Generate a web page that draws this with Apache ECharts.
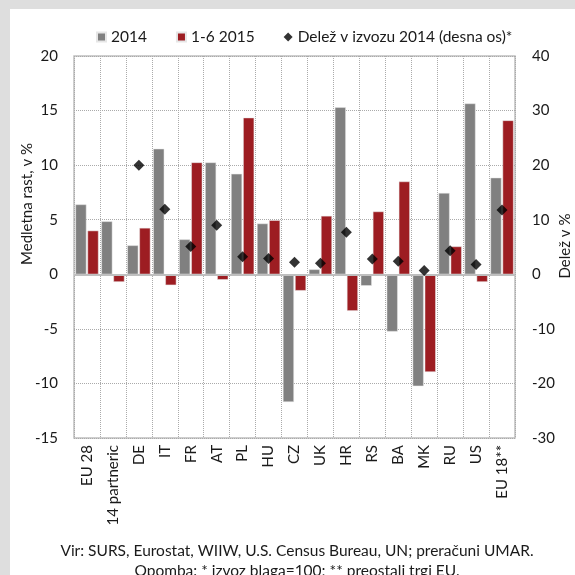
<!DOCTYPE html>
<html>
<head>
<meta charset="utf-8">
<script src="https://cdn.jsdelivr.net/npm/echarts@6/dist/echarts.min.js"></script>
<style>
  html, body { margin: 0; padding: 0; background: #fff; }
  #chart { width: 575px; height: 575px; }
</style>
</head>
<body>
<div id="chart"></div>
<script>
// trgi
var categories = ['EU 28', '14 partneric', 'DE', 'IT', 'FR', 'AT', 'PL', 'HU', 'CZ', 'UK', 'HR', 'RS', 'BA', 'MK', 'RU', 'US', 'EU 18**']
// medletna rast, v %
var rast2014 = [6.4, 4.85, 2.65, 11.5, 3.2, 10.25, 9.2, 4.65, -11.7, 0.45, 15.3, -1.05, -5.25, -10.25, 7.45, 15.65, 8.85]
var rast2015 = [4.0, -0.7, 4.25, -1.0, 10.25, -0.5, 14.35, 4.95, -1.5, 5.35, -3.35, 5.75, 8.5, -8.95, 2.55, -0.7, 14.1]
// delez v izvozu 2014 (desna os)
var delez = ['-', '-', 20.0, 11.9, 5.1, 9.0, 3.2, 2.9, 2.2, 2.0, 7.7, 2.8, 2.4, 0.7, 4.3, 1.8, 11.8]

var font = 'Lato'
var grey = '#808080'
var red = '#9d1d22'

var chart = echarts.init(document.getElementById('chart'))
chart.setOption({
    animation: false,
    textStyle: { fontFamily: font, color: '#1a1a1a' },
    legend: {
        top: 24, left: 91, itemGap: 29, itemWidth: 9, itemHeight: 9,
        textStyle: { fontSize: 15.5, color: '#1a1a1a', fontFamily: font },
        data: [
            { name: '2014', icon: 'rect' },
            { name: '1-6 2015', icon: 'rect' },
            { name: 'Delež v izvozu 2014 (desna os)*', icon: 'diamond' }
        ]
    },
    grid: {
        left: 74, right: 60, top: 56, bottom: 137,
        show: true, borderColor: '#bfbfbf', borderWidth: 1.5
    },
    xAxis: {
        type: 'category',
        data: categories,
        axisLine: { show: false },
        axisTick: { show: false },
        axisLabel: { interval: 0, rotate: 90, margin: 7, fontSize: 15, color: '#1a1a1a', fontFamily: font },
        splitLine: { show: true, interval: 0, lineStyle: { type: 'dotted', color: '#aaaaaa' } }
    },
    yAxis: [{
        type: 'value', min: -15, max: 20, interval: 5,
        axisLine: { show: false }, axisTick: { show: false },
        axisLabel: { margin: 16, fontSize: 15, color: '#1a1a1a', fontFamily: font },
        splitLine: { lineStyle: { type: 'dotted', color: '#aaaaaa' } }
    }, {
        type: 'value', min: -30, max: 40, interval: 10, position: 'right',
        axisLine: { show: false }, axisTick: { show: false },
        axisLabel: { margin: 17, fontSize: 15, color: '#1a1a1a', fontFamily: font },
        splitLine: { show: false }
    }],
    series: [{
        name: '2014', type: 'bar', data: rast2014,
        barWidth: 11, barGap: '10%',
        itemStyle: { color: grey, borderColor: '#e6e6e6', borderWidth: 0.5 },
        markLine: {
            silent: true, symbol: 'none', label: { show: false },
            lineStyle: { color: '#bfbfbf', type: 'solid', width: 2 },
            data: [{ yAxis: 0 }]
        }
    }, {
        name: '1-6 2015', type: 'bar', data: rast2015,
        barWidth: 11,
        itemStyle: { color: red, borderColor: '#e6e6e6', borderWidth: 0.5 }
    }, {
        name: 'Delež v izvozu 2014 (desna os)*', type: 'scatter', yAxisIndex: 1,
        data: delez, symbol: 'diamond', symbolSize: 11,
        itemStyle: { color: '#000' }, z: 5
    }],
    graphic: [
        { type: 'rect', shape: { x: 0, y: 0, width: 575, height: 9 }, style: { fill: '#dedede' } },
        { type: 'rect', shape: { x: 0, y: 0, width: 10, height: 575 }, style: { fill: '#dedede' } },
        {
            type: 'text', x: 27, y: 204, rotation: Math.PI / 2,
            style: { text: 'Medletna rast, v %', font: '15px ' + font, fill: '#1a1a1a', align: 'center', verticalAlign: 'middle' }
        },
        {
            type: 'text', x: 565, y: 246, rotation: Math.PI / 2,
            style: { text: 'Delež v %', font: '15px ' + font, fill: '#1a1a1a', align: 'center', verticalAlign: 'middle' }
        },
        {
            type: 'text', x: 297, y: 551,
            style: { text: 'Vir: SURS, Eurostat, WIIW, U.S. Census Bureau, UN; preračuni UMAR.', font: '15.5px ' + font, fill: '#1a1a1a', align: 'center', verticalAlign: 'middle' }
        },
        {
            type: 'text', x: 297, y: 571,
            style: { text: 'Opomba: * izvoz blaga=100; ** preostali trgi EU.', font: '15.5px ' + font, fill: '#1a1a1a', align: 'center', verticalAlign: 'middle' }
        }
    ]
})
</script>
</body>
</html>
